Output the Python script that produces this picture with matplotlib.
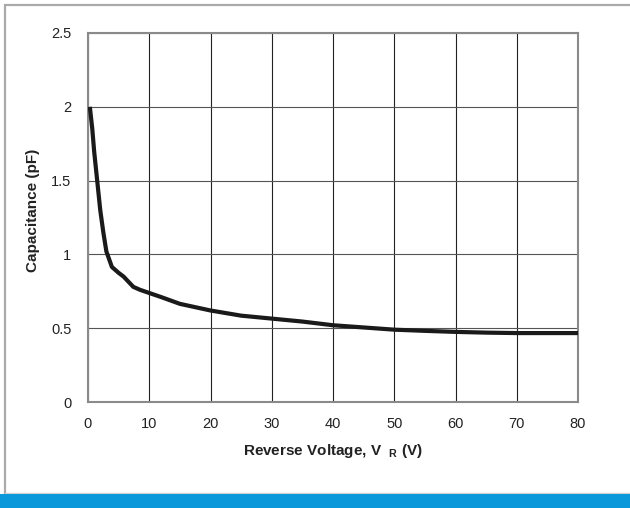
import numpy as np
import matplotlib.pyplot as plt
from matplotlib.patches import Rectangle

plt.rcParams['font.family'] = ['Liberation Sans', 'DejaVu Sans']
plt.rcParams['mathtext.fontset'] = 'custom'
plt.rcParams['mathtext.bf'] = 'Liberation Sans:bold'
plt.rcParams['mathtext.rm'] = 'Liberation Sans'

# capacitance curve
vr = [0.3, 0.7, 1.0, 1.5, 2.0, 2.5, 3.0, 3.9, 5.0, 5.8, 6.6, 7.4, 8.5, 9.9, 12, 15, 20, 25, 30, 35, 40, 45, 50, 55, 60, 65, 70, 75, 80]
cap = [2.0, 1.85, 1.7, 1.5, 1.3, 1.15, 1.02, 0.915, 0.875, 0.85, 0.815, 0.78, 0.76, 0.74, 0.71, 0.665, 0.62, 0.585, 0.565, 0.545, 0.52, 0.505, 0.49, 0.482, 0.475, 0.47, 0.467, 0.467, 0.467]

xticks = [0, 10, 20, 30, 40, 50, 60, 70, 80]
yticks = [0, 0.5, 1, 1.5, 2, 2.5]
yticklabels = ['0', '0.5', '1', '1.5', '2', '2.5']

fig = plt.figure(figsize=(6.3, 5.08), dpi=100)

# outer frame and blue footer
fig.patches.append(Rectangle((4.5/630, 14/508), 1.2, 489/508, transform=fig.transFigure,
                             fill=False, ec='#aaaaaa', lw=1.6, zorder=0))
fig.patches.append(Rectangle((0, 0), 1, 14/508, transform=fig.transFigure,
                             fc='#0a98da', ec='none', zorder=1))
fig.patches.append(Rectangle((4.5/630, 14/508), 1, 1.5/508, transform=fig.transFigure,
                             fc='#d0d0d0', ec='none', zorder=1))

ax = fig.add_axes([88/630, 106/508, 490/630, 369/508])
ax.plot(vr, cap, c='#1a1a1a', lw=3.0, solid_capstyle='butt', zorder=3)

ax.set_xlim(0, 80)
ax.set_ylim(0, 2.5)
ax.set_xticks(xticks)
ax.set_yticks(yticks)
ax.set_yticklabels(yticklabels)
ax.tick_params(length=0, labelsize=10.5, colors='#222222')
ax.tick_params(axis='x', pad=11)
ax.tick_params(axis='y', pad=12)

ax.grid(axis='x', c='#222222', lw=0.8)
ax.grid(axis='y', c='#555555', lw=0.8)
for s in ax.spines.values():
    s.set_color('#8a8a8a')
    s.set_linewidth(1.5)

ax.set_xlabel(r'Reverse Voltage, V  $_\mathbf{R}$ (V)', fontsize=11, fontweight='bold', labelpad=8, color='#222222')
ax.set_ylabel('Capacitance (pF)', fontsize=11, fontweight='bold', color='#222222')
ax.yaxis.set_label_coords(-0.098, 0.52)

fig.savefig('out.png', dpi=100)
